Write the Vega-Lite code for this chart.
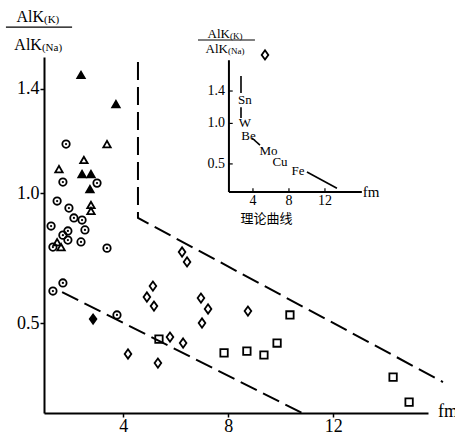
{
  "$schema": "https://vega.github.io/schema/vega-lite/v6.json",
  "width": 384,
  "height": 356,
  "autosize": {"type": "none"},
  "padding": {"left": 44, "top": 57, "right": 27, "bottom": 19},
  "background": "white",
  "config": {"view": {"stroke": null}, "font": "Liberation Serif", "text": {"font": "Liberation Serif", "color": "black"}},
  "datasets": {
    "pts": [
      {"fm": 2.39, "r": 1.454, "sym": "triangle", "fill": "solid"},
      {"fm": 3.72, "r": 1.342, "sym": "triangle", "fill": "solid"},
      {"fm": 3.38, "r": 1.188, "sym": "triangle", "fill": "open"},
      {"fm": 2.50, "r": 1.127, "sym": "triangle", "fill": "open"},
      {"fm": 1.55, "r": 1.092, "sym": "triangle", "fill": "open"},
      {"fm": 2.43, "r": 1.073, "sym": "triangle", "fill": "solid"},
      {"fm": 2.77, "r": 1.073, "sym": "triangle", "fill": "solid"},
      {"fm": 2.73, "r": 1.015, "sym": "triangle", "fill": "solid"},
      {"fm": 2.77, "r": 0.954, "sym": "triangle", "fill": "open"},
      {"fm": 2.77, "r": 0.931, "sym": "triangle", "fill": "open"},
      {"fm": 1.48, "r": 0.811, "sym": "triangle", "fill": "open"},
      {"fm": 1.63, "r": 0.792, "sym": "triangle", "fill": "open"},
      {"fm": 1.82, "r": 1.188, "sym": "circle", "fill": "open"},
      {"fm": 1.70, "r": 1.042, "sym": "circle", "fill": "open"},
      {"fm": 3.00, "r": 1.038, "sym": "circle", "fill": "open"},
      {"fm": 1.48, "r": 0.969, "sym": "circle", "fill": "open"},
      {"fm": 1.93, "r": 0.942, "sym": "circle", "fill": "open"},
      {"fm": 2.12, "r": 0.904, "sym": "circle", "fill": "open"},
      {"fm": 2.43, "r": 0.896, "sym": "circle", "fill": "open"},
      {"fm": 1.25, "r": 0.873, "sym": "circle", "fill": "open"},
      {"fm": 1.89, "r": 0.854, "sym": "circle", "fill": "open"},
      {"fm": 2.54, "r": 0.858, "sym": "circle", "fill": "open"},
      {"fm": 1.70, "r": 0.838, "sym": "circle", "fill": "open"},
      {"fm": 1.89, "r": 0.819, "sym": "circle", "fill": "open"},
      {"fm": 1.32, "r": 0.792, "sym": "circle", "fill": "open"},
      {"fm": 2.39, "r": 0.812, "sym": "circle", "fill": "open"},
      {"fm": 3.38, "r": 0.788, "sym": "circle", "fill": "open"},
      {"fm": 1.70, "r": 0.654, "sym": "circle", "fill": "open"},
      {"fm": 1.32, "r": 0.623, "sym": "circle", "fill": "open"},
      {"fm": 3.76, "r": 0.531, "sym": "circle", "fill": "open"},
      {"fm": 2.85, "r": 0.515, "sym": "diamond", "fill": "solid"},
      {"fm": 4.18, "r": 0.381, "sym": "diamond", "fill": "open"},
      {"fm": 6.24, "r": 0.773, "sym": "diamond", "fill": "open"},
      {"fm": 6.43, "r": 0.735, "sym": "diamond", "fill": "open"},
      {"fm": 5.13, "r": 0.642, "sym": "diamond", "fill": "open"},
      {"fm": 4.90, "r": 0.600, "sym": "diamond", "fill": "open"},
      {"fm": 5.17, "r": 0.565, "sym": "diamond", "fill": "open"},
      {"fm": 6.96, "r": 0.596, "sym": "diamond", "fill": "open"},
      {"fm": 7.23, "r": 0.554, "sym": "diamond", "fill": "open"},
      {"fm": 7.00, "r": 0.500, "sym": "diamond", "fill": "open"},
      {"fm": 5.78, "r": 0.446, "sym": "diamond", "fill": "open"},
      {"fm": 6.28, "r": 0.423, "sym": "diamond", "fill": "open"},
      {"fm": 5.32, "r": 0.346, "sym": "diamond", "fill": "open"},
      {"fm": 8.75, "r": 0.546, "sym": "diamond", "fill": "open"},
      {"fm": 9.40, "r": 1.531, "sym": "diamond", "fill": "open"},
      {"fm": 5.36, "r": 0.438, "sym": "square", "fill": "open"},
      {"fm": 7.84, "r": 0.385, "sym": "square", "fill": "open"},
      {"fm": 10.35, "r": 0.531, "sym": "square", "fill": "open"},
      {"fm": 8.71, "r": 0.392, "sym": "square", "fill": "open"},
      {"fm": 9.36, "r": 0.377, "sym": "square", "fill": "open"},
      {"fm": 9.86, "r": 0.423, "sym": "square", "fill": "open"},
      {"fm": 14.28, "r": 0.292, "sym": "square", "fill": "open"},
      {"fm": 14.89, "r": 0.196, "sym": "square", "fill": "open"}
    ]
  },
  "layer": [
    {
      "layer": [
        {
          "data": {"name": "pts"},
          "mark": {"type": "point", "filled": true, "stroke": "black", "strokeWidth": 1.8, "opacity": 1, "size": 55},
          "encoding": {
            "x": {"field": "fm", "type": "quantitative", "title": null,
              "scale": {"domain": [0.98, 15.61], "nice": false, "zero": false},
              "axis": {"values": [4, 8, 12], "title": null, "grid": false, "domainColor": "black", "domainWidth": 2, "tickColor": "black", "tickWidth": 1.5, "tickSize": 4, "labelFontSize": 18, "labelColor": "black", "labelFont": "Liberation Serif", "labelPadding": 0, "labelFlush": false}},
            "y": {"field": "r", "type": "quantitative", "title": null,
              "scale": {"domain": [0.154, 1.523], "nice": false, "zero": false},
              "axis": {"values": [0.5, 1.0, 1.4], "format": ".1f", "title": null, "grid": false, "domainColor": "black", "domainWidth": 2, "tickColor": "black", "tickWidth": 1.5, "tickSize": 4, "labelFontSize": 18, "labelColor": "black", "labelFont": "Liberation Serif", "labelPadding": 1, "labelFlush": false}},
            "shape": {"field": "sym", "type": "nominal", "legend": null,
              "scale": {"domain": ["circle", "triangle", "diamond", "square"], "range": ["circle", "triangle-up", "M0,-1.25L0.9,0L0,1.25L-0.9,0Z", "square"]}},
            "fill": {"field": "fill", "type": "nominal", "legend": null,
              "scale": {"domain": ["open", "solid"], "range": ["transparent", "black"]}}
          }
        },
        {
          "data": {"name": "pts"},
          "transform": [{"filter": "datum.sym === 'circle'"}],
          "mark": {"type": "point", "filled": true, "color": "black", "size": 5, "opacity": 1},
          "encoding": {
            "x": {"field": "fm", "type": "quantitative", "title": null},
            "y": {"field": "r", "type": "quantitative", "title": null}
          }
        },
        {
          "data": {"values": [
            {"seg": "upper", "o": 1, "fm": 4.56, "r": 1.504},
            {"seg": "upper", "o": 2, "fm": 4.56, "r": 0.904},
            {"seg": "upper", "o": 3, "fm": 16.18, "r": 0.273},
            {"seg": "lower", "o": 1, "fm": 1.67, "r": 0.619},
            {"seg": "lower", "o": 2, "fm": 10.81, "r": 0.154}
          ]},
          "mark": {"type": "line", "color": "black", "strokeWidth": 2, "strokeDash": [18, 7]},
          "encoding": {
            "x": {"field": "fm", "type": "quantitative", "title": null},
            "y": {"field": "r", "type": "quantitative", "title": null},
            "detail": {"field": "seg"},
            "order": {"field": "o"}
          }
        },
        {
          "data": {"values": [{"fm": 15.99, "r": 0.154, "t": "fm"}]},
          "mark": {"type": "text", "align": "left", "baseline": "middle", "fontSize": 18, "dy": -1},
          "encoding": {
            "x": {"field": "fm", "type": "quantitative", "title": null},
            "y": {"field": "r", "type": "quantitative", "title": null},
            "text": {"field": "t"}
          }
        },
        {
          "data": {"values": [{"fm": 0.98, "r": 1.677, "t": "AlK"}, {"fm": 0.90, "r": 1.569, "t": "AlK"}]},
          "mark": {"type": "text", "align": "right", "baseline": "middle", "fontSize": 16},
          "encoding": {
            "x": {"field": "fm", "type": "quantitative", "title": null},
            "y": {"field": "r", "type": "quantitative", "title": null},
            "text": {"field": "t"}
          }
        },
        {
          "data": {"values": [{"fm": 0.98, "r": 1.677, "t": "(K)"}, {"fm": 0.90, "r": 1.569, "t": "(Na)"}]},
          "mark": {"type": "text", "align": "left", "baseline": "middle", "fontSize": 11, "dy": 3},
          "encoding": {
            "x": {"field": "fm", "type": "quantitative", "title": null},
            "y": {"field": "r", "type": "quantitative", "title": null},
            "text": {"field": "t"}
          }
        },
        {
          "data": {"values": [{"fm": -0.47, "fm2": 2.05, "r": 1.638}]},
          "mark": {"type": "rule", "color": "black", "strokeWidth": 1.3},
          "encoding": {
            "x": {"field": "fm", "type": "quantitative", "title": null},
            "x2": {"field": "fm2"},
            "y": {"field": "r", "type": "quantitative", "title": null}
          }
        }
      ]
    },
    {
      "layer": [
        {
          "data": {"values": [
            {"u": 1.33, "u2": 1.33, "w": 0.153, "w2": 1.78, "part": "y axis"},
            {"u": 1.33, "u2": 16.1, "w": 0.153, "w2": 0.153, "part": "x axis"}
          ]},
          "mark": {"type": "rule", "color": "black", "strokeWidth": 2},
          "encoding": {
            "x": {"field": "u", "type": "quantitative", "axis": null, "scale": {"domain": [-19.22, 23.45], "nice": false, "zero": false}},
            "x2": {"field": "u2"},
            "y": {"field": "w", "type": "quantitative", "axis": null, "scale": {"domain": [-2.575, 1.82], "nice": false, "zero": false}},
            "y2": {"field": "w2"}
          }
        },
        {
          "data": {"values": [
            {"u": 4, "u2": 4, "w": 0.153, "w2": 0.2},
            {"u": 8, "u2": 8, "w": 0.153, "w2": 0.2},
            {"u": 12, "u2": 12, "w": 0.153, "w2": 0.2},
            {"u": 1.33, "u2": 1.75, "w": 1.4, "w2": 1.4},
            {"u": 1.33, "u2": 1.75, "w": 1.0, "w2": 1.0},
            {"u": 1.33, "u2": 1.75, "w": 0.5, "w2": 0.5}
          ]},
          "mark": {"type": "rule", "color": "black", "strokeWidth": 1.2},
          "encoding": {
            "x": {"field": "u", "type": "quantitative", "axis": null},
            "x2": {"field": "u2"},
            "y": {"field": "w", "type": "quantitative", "axis": null},
            "y2": {"field": "w2"}
          }
        },
        {
          "data": {"values": [
            {"u": 1.33, "w": 1.4, "t": "1.4"},
            {"u": 1.33, "w": 1.0, "t": "1.0"},
            {"u": 1.33, "w": 0.5, "t": "0.5"}
          ]},
          "mark": {"type": "text", "align": "right", "baseline": "middle", "fontSize": 14, "dx": -4},
          "encoding": {
            "x": {"field": "u", "type": "quantitative", "axis": null},
            "y": {"field": "w", "type": "quantitative", "axis": null},
            "text": {"field": "t"}
          }
        },
        {
          "data": {"values": [
            {"u": 4, "w": 0.153, "t": "4"},
            {"u": 8, "w": 0.153, "t": "8"},
            {"u": 12, "w": 0.153, "t": "12"}
          ]},
          "mark": {"type": "text", "align": "center", "baseline": "top", "fontSize": 14, "dy": 2},
          "encoding": {
            "x": {"field": "u", "type": "quantitative", "axis": null},
            "y": {"field": "w", "type": "quantitative", "axis": null},
            "text": {"field": "t"}
          }
        },
        {
          "data": {"values": [{"u": 16.2, "w": 0.153, "t": "fm"}]},
          "mark": {"type": "text", "align": "left", "baseline": "middle", "fontSize": 15},
          "encoding": {
            "x": {"field": "u", "type": "quantitative", "axis": null},
            "y": {"field": "w", "type": "quantitative", "axis": null},
            "text": {"field": "t"}
          }
        },
        {
          "data": {"values": [
            {"seg": "A", "o": 1, "u": 2.67, "w": 1.585},
            {"seg": "A", "o": 2, "u": 2.67, "w": 1.375},
            {"seg": "B", "o": 1, "u": 2.67, "w": 1.20},
            {"seg": "B", "o": 2, "u": 2.67, "w": 1.067},
            {"seg": "C", "o": 1, "u": 3.89, "w": 0.82},
            {"seg": "C", "o": 2, "u": 4.78, "w": 0.733},
            {"seg": "D", "o": 1, "u": 10.0, "w": 0.40},
            {"seg": "D", "o": 2, "u": 13.33, "w": 0.20}
          ]},
          "mark": {"type": "line", "color": "black", "strokeWidth": 1.6},
          "encoding": {
            "x": {"field": "u", "type": "quantitative", "axis": null},
            "y": {"field": "w", "type": "quantitative", "axis": null},
            "detail": {"field": "seg"},
            "order": {"field": "o"}
          }
        },
        {
          "data": {"values": [
            {"u": 3.1, "w": 1.29, "t": "Sn"},
            {"u": 3.1, "w": 1.0, "t": "W"},
            {"u": 3.5, "w": 0.85, "t": "Be"},
            {"u": 5.72, "w": 0.663, "t": "Mo"},
            {"u": 7.0, "w": 0.527, "t": "Cu"},
            {"u": 9.0, "w": 0.416, "t": "Fe"}
          ]},
          "mark": {"type": "text", "align": "center", "baseline": "middle", "fontSize": 13},
          "encoding": {
            "x": {"field": "u", "type": "quantitative", "axis": null},
            "y": {"field": "w", "type": "quantitative", "axis": null},
            "text": {"field": "t"}
          }
        },
        {
          "data": {"values": [{"u": 1.44, "w": 2.10, "t": "AlK"}, {"u": 1.22, "w": 1.92, "t": "AlK"}]},
          "mark": {"type": "text", "align": "right", "baseline": "middle", "fontSize": 13},
          "encoding": {
            "x": {"field": "u", "type": "quantitative", "axis": null},
            "y": {"field": "w", "type": "quantitative", "axis": null},
            "text": {"field": "t"}
          }
        },
        {
          "data": {"values": [{"u": 1.44, "w": 2.10, "t": "(K)"}, {"u": 1.22, "w": 1.92, "t": "(Na)"}]},
          "mark": {"type": "text", "align": "left", "baseline": "middle", "fontSize": 9, "dy": 2},
          "encoding": {
            "x": {"field": "u", "type": "quantitative", "axis": null},
            "y": {"field": "w", "type": "quantitative", "axis": null},
            "text": {"field": "t"}
          }
        },
        {
          "data": {"values": [{"u": -2.11, "u2": 4.22, "w": 2.03}]},
          "mark": {"type": "rule", "color": "black", "strokeWidth": 1.1},
          "encoding": {
            "x": {"field": "u", "type": "quantitative", "axis": null},
            "x2": {"field": "u2"},
            "y": {"field": "w", "type": "quantitative", "axis": null}
          }
        },
        {
          "data": {"values": [{"u": 5.5, "w": -0.18, "t": "理论曲线"}]},
          "mark": {"type": "text", "align": "center", "baseline": "middle", "fontSize": 13, "font": "Noto Sans CJK SC"},
          "encoding": {
            "x": {"field": "u", "type": "quantitative", "axis": null},
            "y": {"field": "w", "type": "quantitative", "axis": null},
            "text": {"field": "t"}
          }
        }
      ]
    }
  ],
  "resolve": {"scale": {"x": "independent", "y": "independent"}}
}
